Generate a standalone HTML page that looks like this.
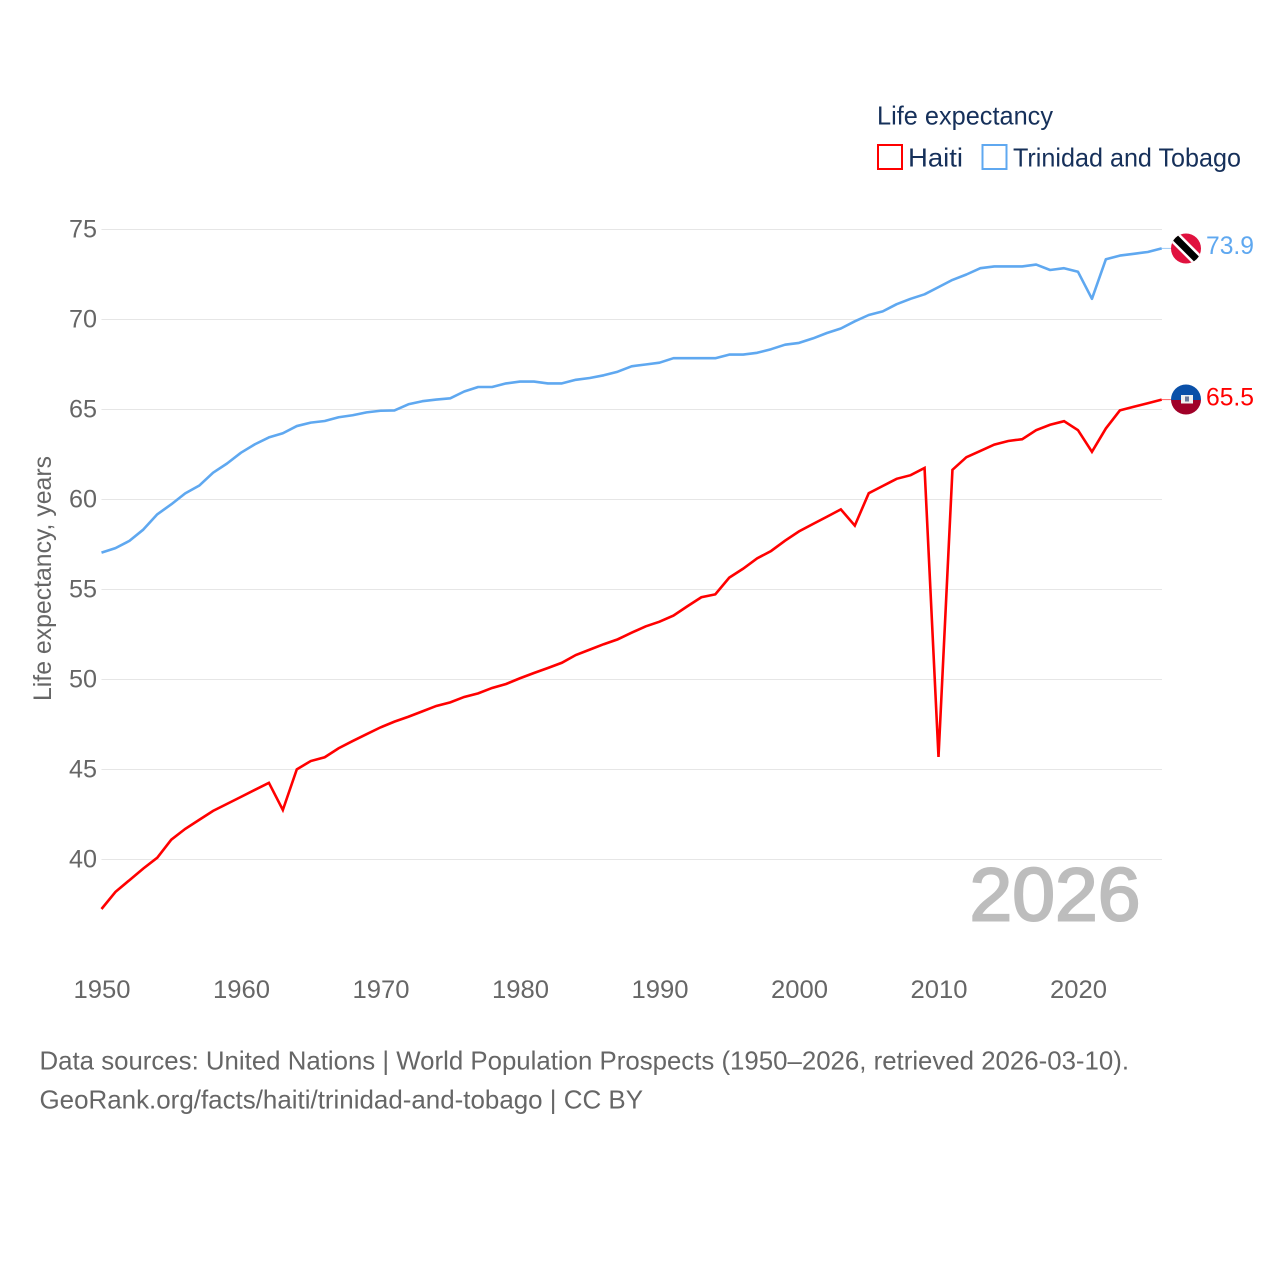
<!DOCTYPE html>
<html lang="en">
<head>
<meta charset="utf-8">
<title>Life expectancy: Haiti and Trinidad and Tobago</title>
<style>
html,body{margin:0;padding:0;background:#fff;}
svg{display:block;font-family:"Liberation Sans",sans-serif;}
</style>
</head>
<body>
<svg id="chart" xmlns="http://www.w3.org/2000/svg" width="1280" height="1280" viewBox="0 0 1280 1280">
  <defs>
    <clipPath id="flag-clip-tt"><circle cx="1186" cy="248.5" r="15"></circle></clipPath>
    <clipPath id="flag-clip-ht"><circle cx="1186" cy="399.5" r="15"></circle></clipPath>
  </defs>
  <g id="grid"></g>
  <g id="yticks"></g>
  <g id="xticks"></g>
  <g id="series"></g>

  <text transform="translate(51,701) rotate(-90)" font-size="25" fill="#666" textLength="245" lengthAdjust="spacingAndGlyphs">Life expectancy, years</text>

  <text x="877" y="124.5" font-size="26" fill="#16305a" textLength="176" lengthAdjust="spacingAndGlyphs">Life expectancy</text>
  <rect x="878" y="145" width="24" height="24" fill="none" stroke="#ff0000" stroke-width="2"></rect>
  <text x="908" y="166.5" font-size="26" fill="#16305a" textLength="55" lengthAdjust="spacingAndGlyphs">Haiti</text>
  <rect x="982.5" y="145" width="24" height="24" fill="none" stroke="#5fa8f0" stroke-width="2"></rect>
  <text x="1013" y="166.5" font-size="26" fill="#16305a" textLength="228" lengthAdjust="spacingAndGlyphs">Trinidad and Tobago</text>

  <text x="969.5" y="920.5" font-size="75" fill="#bdbdbd" stroke="#bdbdbd" stroke-width="2" textLength="171" lengthAdjust="spacingAndGlyphs">2026</text>

  <g clip-path="url(#flag-clip-tt)">
    <rect x="1171" y="233.5" width="30" height="30" fill="#e0123f"></rect>
    <line x1="1171" y1="233.5" x2="1201" y2="263.5" stroke="#fff" stroke-width="12"></line>
    <line x1="1171" y1="233.5" x2="1201" y2="263.5" stroke="#000" stroke-width="7"></line>
  </g>
  <g clip-path="url(#flag-clip-ht)">
    <rect x="1171" y="384.5" width="30" height="15.5" fill="#0a50a8"></rect>
    <rect x="1171" y="400" width="30" height="15" fill="#a00028"></rect>
    <rect x="1181" y="395" width="12" height="8.5" fill="#f0f0f0"></rect>
    <rect x="1185" y="396.5" width="4" height="5" fill="#6a7a9c"></rect>
  </g>
  <text id="label-tt" x="1206" y="254" font-size="25" fill="#5fa8f0" textLength="48" lengthAdjust="spacingAndGlyphs">73.9</text>
  <text id="label-ht" x="1206" y="405.5" font-size="25" fill="#ff0000" textLength="48" lengthAdjust="spacingAndGlyphs">65.5</text>

  <text x="39.5" y="1069.5" font-size="26" fill="#666" textLength="1089.5" lengthAdjust="spacingAndGlyphs">Data sources: United Nations | World Population Prospects (1950–2026, retrieved 2026-03-10).</text>
  <text x="39.5" y="1108.5" font-size="26" fill="#666" textLength="603.5" lengthAdjust="spacingAndGlyphs">GeoRank.org/facts/haiti/trinidad-and-tobago | CC BY</text>
</svg>
<script>
const startYear = 1950;
const yTicks = [40, 45, 50, 55, 60, 65, 70, 75];
const xTicks = [1950, 1960, 1970, 1980, 1990, 2000, 2010, 2020];
const haiti = [
  37.25, 38.2, 38.85, 39.5, 40.1, 41.1, 41.7, 42.2, 42.7, 43.09,
  43.48, 43.87, 44.26, 42.75, 45.01, 45.47, 45.68, 46.18, 46.58, 46.96,
  47.34, 47.66, 47.93, 48.23, 48.53, 48.73, 49.03, 49.23, 49.53, 49.75,
  50.07, 50.36, 50.64, 50.93, 51.36, 51.66, 51.96, 52.23, 52.6, 52.95,
  53.21, 53.55, 54.07, 54.57, 54.73, 55.66, 56.16, 56.73, 57.14, 57.71,
  58.23, 58.64, 59.04, 59.45, 58.55, 60.35, 60.75, 61.15, 61.35, 61.75,
  45.7, 61.65, 62.35, 62.7, 63.05, 63.25, 63.35, 63.85, 64.15, 64.35,
  63.85, 62.65, 63.95, 64.95, 65.15, 65.35, 65.55
];
const trinidad = [
  57.05, 57.3, 57.7, 58.33, 59.18, 59.73, 60.34, 60.77, 61.49, 62.0,
  62.6, 63.07, 63.45, 63.68, 64.08, 64.27, 64.36, 64.57, 64.68, 64.84,
  64.93, 64.95, 65.29, 65.46, 65.55, 65.62, 66.0, 66.25, 66.25, 66.45,
  66.55, 66.55, 66.45, 66.45, 66.65, 66.75, 66.9, 67.1, 67.4, 67.5,
  67.6, 67.85, 67.85, 67.85, 67.85, 68.05, 68.05, 68.15, 68.35, 68.6,
  68.7, 68.95, 69.25, 69.5, 69.9, 70.25, 70.45, 70.85, 71.15, 71.4,
  71.8, 72.2, 72.5, 72.85, 72.95, 72.95, 72.95, 73.05, 72.75, 72.85,
  72.65, 71.15, 73.35, 73.55, 73.65, 73.75, 73.95
];

const SVG_NS = 'http://www.w3.org/2000/svg';
function xScale(year) { return 101.5 + (year - 1950) * 13.95; }
function yScale(v) { return 229.5 + (75 - v) * 18; }

const gridGroup = document.getElementById('grid');
const yTickGroup = document.getElementById('yticks');
const xTickGroup = document.getElementById('xticks');
const seriesGroup = document.getElementById('series');

yTicks.forEach(function (t) {
  const line = document.createElementNS(SVG_NS, 'line');
  
  
  line.setAttribute('x1', 101.5);
  line.setAttribute('x2', 1162);
  line.setAttribute('y1', yScale(t));
  line.setAttribute('y2', yScale(t));
  line.setAttribute('stroke', '#e6e6e6');
  line.setAttribute('stroke-width', '1');
  gridGroup.appendChild(line);

  const label = document.createElementNS(SVG_NS, 'text');
  
  
  label.setAttribute('x', 69);
  label.setAttribute('y', yScale(t) + 8);
  label.setAttribute('font-size', '25');
  label.setAttribute('fill', '#666');
  label.setAttribute('textLength', '28');
  label.setAttribute('lengthAdjust', 'spacingAndGlyphs');
  label.textContent = t;
  yTickGroup.appendChild(label);
});

xTicks.forEach(function (t) {
  const label = document.createElementNS(SVG_NS, 'text');
  
  
  label.setAttribute('x', xScale(t) - 28);
  label.setAttribute('y', 998);
  label.setAttribute('font-size', '25');
  label.setAttribute('fill', '#666');
  label.setAttribute('textLength', '57');
  label.setAttribute('lengthAdjust', 'spacingAndGlyphs');
  label.textContent = t;
  xTickGroup.appendChild(label);
});

function pointsFor(values) {
  return values.map(function (v, i) {
    return xScale(startYear + i).toFixed(2) + ',' + yScale(v).toFixed(2);
  }).join(' ');
}

const haitiLine = document.createElementNS(SVG_NS, 'polyline');


haitiLine.setAttribute('points', pointsFor(haiti));
haitiLine.setAttribute('fill', 'none');
haitiLine.setAttribute('stroke', '#ff0000');
haitiLine.setAttribute('stroke-width', '2.6');
haitiLine.setAttribute('stroke-linejoin', 'miter');
seriesGroup.appendChild(haitiLine);

const trinidadLine = document.createElementNS(SVG_NS, 'polyline');


trinidadLine.setAttribute('points', pointsFor(trinidad));
trinidadLine.setAttribute('fill', 'none');
trinidadLine.setAttribute('stroke', '#5fa8f0');
trinidadLine.setAttribute('stroke-width', '2.6');
trinidadLine.setAttribute('stroke-linejoin', 'round');
seriesGroup.appendChild(trinidadLine);

const haitiTail = document.createElementNS(SVG_NS, 'line');


haitiTail.setAttribute('x1', xScale(startYear + haiti.length - 1));
haitiTail.setAttribute('x2', 1172);
haitiTail.setAttribute('y1', yScale(haiti[haiti.length - 1]));
haitiTail.setAttribute('y2', yScale(haiti[haiti.length - 1]));
haitiTail.setAttribute('stroke', '#ff0000');
haitiTail.setAttribute('stroke-width', '1');
haitiTail.setAttribute('opacity', '0.6');
seriesGroup.appendChild(haitiTail);

const trinidadTail = document.createElementNS(SVG_NS, 'line');


trinidadTail.setAttribute('x1', xScale(startYear + trinidad.length - 1));
trinidadTail.setAttribute('x2', 1172);
trinidadTail.setAttribute('y1', yScale(trinidad[trinidad.length - 1]));
trinidadTail.setAttribute('y2', yScale(trinidad[trinidad.length - 1]));
trinidadTail.setAttribute('stroke', '#5fa8f0');
trinidadTail.setAttribute('stroke-width', '1');
trinidadTail.setAttribute('opacity', '0.6');
seriesGroup.appendChild(trinidadTail);
</script>
</body>
</html>
